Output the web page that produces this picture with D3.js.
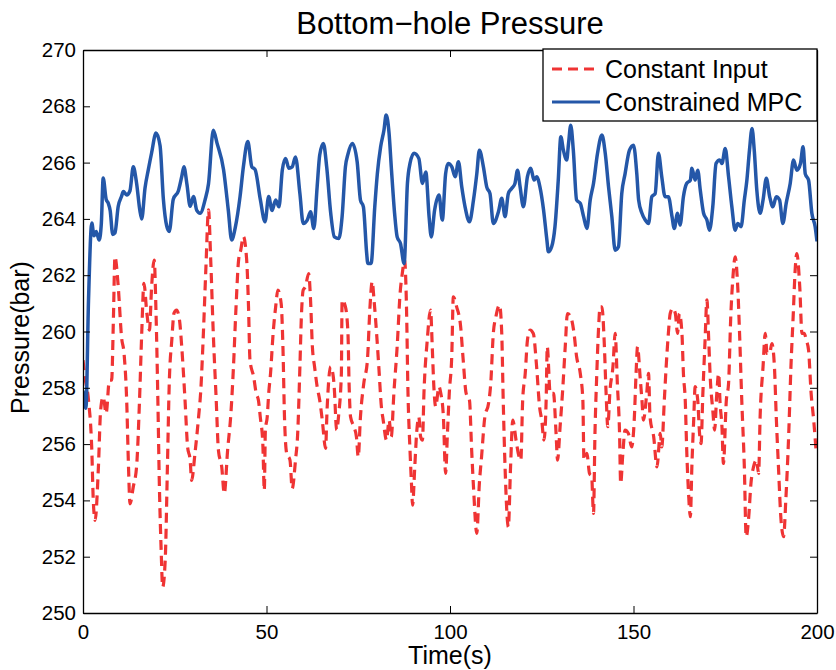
<!DOCTYPE html>
<html>
<head>
<meta charset="utf-8">
<script src="https://cdn.jsdelivr.net/npm/d3@7"></script>
<style>
  html, body { margin: 0; padding: 0; background: #fff; }
  svg { display: block; font-family: "Liberation Sans", Arial, Helvetica, sans-serif; }
</style>
</head>
<body>
<svg id="chart" width="836" height="670"></svg>
<script>
// Chart labels
const chartTitle = "Bottom\u2212hole Pressure";
const xLabel = "Time(s)";
const yLabel = "Pressure(bar)";
const seriesNames = ["Constant Input", "Constrained MPC"];

// Axis ticks
const xTicks = [0, 50, 100, 150, 200];
const yTicks = [250, 252, 254, 256, 258, 260, 262, 264, 266, 268, 270];

// Constrained MPC: sample times (s) and bottom-hole pressure (bar)
const mpcTime = [0, 0.8, 1.5, 2.4, 3.0, 3.6, 4.4, 5.0, 5.5, 6.3, 6.9, 7.4, 8.1, 8.7, 9.6, 10.5, 11.0, 11.9, 12.8, 13.7, 14.6, 15.5, 16.0, 16.9, 17.8, 18.7, 19.9, 21.0, 21.9, 22.8, 23.5, 24.6, 26.0, 26.9, 27.5, 28.3, 29.2, 30.1, 31.0, 31.9, 33.3, 34.2, 35.5, 36.5, 38.3, 39.6, 40.5, 41.5, 42.8, 43.7, 44.9, 46.0, 46.9, 48.3, 49.6,
  50.6, 51.5, 52.5, 53.4, 54.3, 55.2, 56.1, 57.0, 57.9, 59.1, 60.0, 61.1, 62.0, 62.9, 63.8, 64.5, 65.5, 66.4, 67.5, 68.5, 69.7, 70.6, 71.5, 72.2, 73.4, 74.7, 75.6, 76.4, 77.3, 77.6, 78.5, 79.5, 80.2, 81.1, 82.0, 82.6, 83.4, 84.0, 84.9, 85.6, 86.5, 87.5, 88.4, 89.1, 90.2, 91.5, 92.5, 93.4, 94.3, 94.9, 95.8, 97.0, 97.9, 98.8,
  99.5, 100.5, 101.4, 102.3, 103.2, 104.1, 105.3, 106.4, 107.3, 108.0, 109.1, 110.0, 110.9, 111.8, 113.2, 114.1, 115.0, 115.9, 116.8, 117.7, 118.4, 119.1, 120.0, 121.1, 122.0, 122.9, 123.6, 124.5, 125.5, 126.4, 126.8, 127.7, 128.6, 129.5, 130.2, 130.9, 131.8, 132.3, 132.9, 133.6, 134.5, 135.5, 136.4, 137.3, 138.2, 139.1, 140.2, 141.4, 142.3, 143.2, 144.1, 145.0, 145.9, 146.8, 147.7, 148.9,
  150.0, 150.9, 151.4, 152.3, 153.2, 154.1, 155.0, 155.9, 156.8, 157.7, 158.6, 159.5, 160.5, 161.1, 162.0, 162.7, 163.6, 164.5, 165.5, 165.9, 166.8, 167.5, 168.2, 169.1, 170.0, 170.7, 171.6, 172.5, 173.5, 174.1, 175.0, 175.9, 176.8, 177.7, 178.4, 179.3, 180.2, 180.9, 181.6, 182.3, 182.9, 183.6, 184.5, 185.3, 186.2, 187.1, 188.0, 188.9, 189.8, 190.7, 191.6, 192.7, 193.6, 194.5, 195.5, 196.2, 196.8, 197.7, 198.6, 199.5, 200];
const mpcPressure = [257.9, 257.27, 261.1, 263.85, 263.4, 263.55, 263.25, 263.85, 265.45, 264.7, 264.55, 264.3, 263.45, 263.5, 264.45, 264.8, 264.97, 264.85, 265.0, 265.85, 265.27, 264.3, 264.0, 265.1, 265.75, 266.35, 267.05, 266.6, 264.7, 263.75, 263.55, 264.7, 265.0, 265.5, 265.85, 265.25, 264.45, 264.8, 264.3, 264.2, 264.7, 265.25, 267.15, 266.7, 265.75, 264.3, 263.25, 263.7, 264.8, 265.85, 266.75, 265.85, 265.75, 264.7, 263.9,
  264.8, 264.3, 264.67, 264.43, 265.73, 266.15, 265.8, 265.85, 266.2, 264.9, 263.84, 263.96, 264.25, 263.66, 265.14, 266.27, 266.68, 265.85, 264.2, 263.36, 263.3, 264.08, 265.85, 266.3, 266.68, 266.03, 264.67, 264.43, 262.77, 262.42, 262.42, 264.43, 265.6, 266.56, 267.15, 267.69, 267.04, 265.85, 264.2, 263.36, 263.13, 262.42, 265.26, 265.97, 266.33, 266.15, 265.26, 265.67, 264.08, 263.36, 264.31, 264.85, 263.96, 265.6,
  265.97, 265.85, 265.5, 266.03, 265.14, 264.43, 263.9, 264.67, 265.6, 266.44, 265.85, 265.14, 264.9, 263.84, 264.25, 264.73, 264.08, 264.9, 265.08, 265.26, 265.73, 265.14, 264.43, 265.5, 265.8, 265.38, 265.5, 265.14, 264.31, 263.25, 262.83, 263.01, 263.72, 265.38, 266.92, 266.44, 266.09, 266.68, 267.33, 266.44, 264.67, 264.55, 264.08, 263.66, 264.67, 265.26, 266.33, 266.98, 266.33, 265.14, 264.08, 262.89, 263.01, 264.9, 265.6, 266.44,
  266.62, 265.6, 264.67, 264.2, 263.96, 263.84, 264.79, 264.9, 266.33, 265.5, 264.79, 264.79, 264.08, 263.66, 264.2, 263.78, 264.79, 265.26, 265.38, 265.8, 265.38, 265.73, 265.02, 264.2, 263.96, 263.6, 264.43, 265.97, 266.09, 265.97, 266.5, 265.5, 264.43, 263.6, 263.84, 263.72, 264.67, 265.38, 266.44, 267.21, 266.44, 265.02, 264.2, 264.67, 265.44, 264.79, 264.43, 264.79, 264.67, 263.84, 264.55, 265.26, 266.09, 265.73, 265.97, 266.56, 265.6, 265.38, 264.2, 263.72, 263.2];

// Constant input: sample times (s) and bottom-hole pressure (bar)
const constTime = [0, 0.5, 1.5, 2.4, 2.8, 3.3, 4.2, 4.8, 5.5, 6.3, 7.2, 7.8, 8.3, 8.7, 9.6, 10.5, 11.2, 11.9, 12.4, 12.8, 13.7, 14.6, 15.4, 16.0, 16.6, 17.4, 18.1, 18.7, 19.4, 19.9, 20.4, 20.8, 21.3, 21.7, 22.4, 23.0, 23.5, 24.2, 24.8, 25.5, 26.3, 26.9, 27.8, 28.5, 29.2, 29.6, 30.5, 31.5, 32.1, 32.8, 33.5, 34.2, 34.8, 35.5, 36.3, 36.9, 37.8, 38.5, 39.4, 40.3, 41.0, 41.7, 42.4, 43.0, 43.7, 44.6, 45.1, 45.5, 46.5, 47.2, 47.8, 48.3, 49.0, 49.4,
  49.7, 50.2, 50.6, 51.1, 51.8, 52.5, 53.1, 54.0, 54.5, 54.9, 55.5, 56.4, 57.0, 57.9, 58.5, 59.1, 59.5, 60.0, 60.6, 61.5, 62.0, 62.5, 63.1, 63.8, 64.5, 65.2, 66.1, 66.5, 67.5, 68.2, 68.5, 69.1, 69.7, 70.4, 70.6, 71.5, 72.2, 72.5, 72.9, 73.8, 74.5, 75.0, 75.6, 76.5, 77.5, 78.2, 78.8, 79.3, 80.0, 80.6, 81.3, 81.8, 82.7, 83.4, 84.0, 84.7, 85.6, 86.4, 87.0, 87.6, 88.2, 88.5, 89.1, 89.5, 89.8, 90.4, 90.9, 91.5, 92.0, 92.5, 92.9, 93.8, 94.7, 95.2, 95.6, 96.1, 97.0, 97.5, 98.2, 98.8,
  99.3, 99.8, 100.5, 100.9, 101.8, 102.9, 103.6, 104.4, 105.3, 105.9, 106.4, 107.3, 108.0, 108.6, 109.5, 110.5, 111.1, 111.8, 112.5, 113.5, 114.1, 114.5, 115.0, 115.9, 116.5, 117.1, 118.0, 118.6, 119.3, 119.8, 120.5, 121.1, 121.8, 122.7, 123.6, 124.4, 125.0, 125.6, 126.2, 126.5, 127.3, 128.2, 128.9, 129.3, 130.0, 130.7, 131.4, 132.0, 132.9, 133.8, 134.5, 135.5, 136.2, 136.5, 137.3, 138.0, 138.6, 139.1, 139.5, 140.0, 140.5, 140.9, 141.4, 142.0, 142.5, 143.0, 143.6, 144.4, 145.0, 145.6, 146.2, 146.5, 147.1, 147.7, 148.6,
  149.5, 150.2, 150.7, 151.1, 151.8, 152.3, 152.7, 153.6, 154.1, 154.5, 155.5, 156.4, 157.3, 157.7, 158.4, 158.9, 159.5, 160.0, 160.7, 161.4, 162.0, 162.5, 163.2, 163.6, 164.1, 164.5, 165.0, 165.5, 165.9, 166.4, 166.8, 167.5, 168.0, 168.4, 168.9, 169.5, 170.0, 170.5, 170.9, 171.6, 172.1, 172.7, 173.2, 173.6, 174.1, 174.5, 175.3, 175.9, 176.5, 177.1, 177.7, 178.4, 178.9, 179.5, 180.2, 180.7, 181.4, 182.0, 182.7, 183.5, 184.1, 184.5, 185.3, 185.9, 186.4, 187.1, 187.7, 188.4, 188.9, 189.5, 190.2, 190.9, 191.5, 192.3, 192.9, 193.5, 194.1, 194.5, 195.3, 195.9, 196.5, 197.1, 197.7, 198.4, 199.1, 199.8];
const constPressure = [258.98, 258.4, 257.56, 255.78, 254.0, 253.29, 255.19, 257.2, 257.68, 257.09, 258.27, 258.27, 260.53, 262.66, 261.6, 259.8, 259.2, 257.56, 255.19, 253.88, 254.48, 255.19, 257.56, 259.93, 261.71, 260.65, 260.05, 261.6, 262.54, 260.65, 257.56, 254.6, 252.22, 250.92, 251.87, 255.19, 258.15, 259.7, 260.65, 260.76, 260.4, 259.46, 257.56, 255.9, 255.43, 254.71, 255.66, 256.97, 257.92, 259.93, 262.3, 264.32, 262.54, 259.93, 257.56, 255.78, 255.19, 254.24, 255.78, 257.09, 258.75, 260.88, 262.54, 262.9, 263.37, 262.54, 260.88, 258.98, 258.39, 257.8, 257.56, 256.97, 256.0, 254.36,
  256.5, 256.97, 257.8, 258.51, 259.93, 260.88, 261.47, 260.99, 259.34, 256.97, 255.67, 255.43, 254.42, 255.43, 256.38, 258.75, 260.52, 261.47, 261.59, 262.06, 261.12, 259.46, 258.75, 258.04, 257.56, 256.85, 255.85, 257.21, 258.75, 258.39, 257.92, 256.5, 257.09, 258.51, 261.12, 260.88, 259.93, 258.15, 256.97, 256.62, 256.26, 255.55, 256.97, 258.15, 258.98, 260.88, 261.77, 261.12, 259.93, 258.75, 257.33, 256.85, 256.14, 256.85, 256.26, 257.8, 259.46, 261.35, 262.06, 262.54, 260.52, 258.15, 255.79, 254.6, 253.83, 255.19, 256.38, 256.97, 256.26, 256.14, 257.8, 259.69, 260.76, 259.34, 258.04, 257.33, 258.04, 257.8, 256.97, 254.96,
  256.38, 257.8, 259.22, 261.23, 260.88, 260.17, 258.98, 257.8, 257.56, 255.79, 254.48, 252.83, 254.6, 255.55, 256.97, 257.44, 258.15, 259.93, 260.52, 260.94, 259.93, 257.56, 255.19, 253.06, 255.19, 256.85, 256.14, 255.67, 255.43, 257.56, 258.51, 259.69, 260.05, 259.93, 258.75, 257.33, 256.85, 256.14, 257.56, 259.46, 257.8, 257.8, 256.38, 255.43, 256.62, 257.92, 259.46, 260.64, 260.52, 259.93, 259.1, 258.51, 257.56, 255.43, 255.67, 254.96, 254.84, 253.54, 256.38, 258.51, 260.17, 260.88, 260.88, 259.69, 257.92, 256.62, 257.92, 258.75, 259.93, 258.15, 256.38, 254.6, 255.67, 256.5, 256.38,
  255.9, 256.85, 258.51, 259.46, 258.39, 257.56, 256.85, 257.8, 258.51, 256.97, 256.26, 255.19, 256.38, 255.9, 257.56, 258.75, 259.93, 260.64, 260.82, 260.64, 259.93, 260.64, 259.93, 258.51, 257.56, 255.79, 254.25, 253.42, 255.19, 256.85, 258.04, 257.56, 256.38, 256.02, 257.8, 259.69, 261.12, 259.69, 258.39, 257.21, 256.5, 257.8, 258.51, 257.44, 256.62, 255.31, 257.56, 258.15, 260.52, 261.94, 262.65, 261.59, 259.93, 257.56, 255.19, 252.71, 253.42, 254.6, 255.19, 255.43, 254.96, 256.97, 258.75, 259.93, 259.22, 259.22, 259.57, 258.75, 256.97, 255.19, 253.3, 252.71, 254.01, 256.38, 258.75, 260.52, 262.3, 262.77, 261.59, 259.93, 259.93, 259.69, 259.34, 257.8, 256.85, 255.67];

const colors = { constant: "#ef3434", mpc: "#2457a8" };

const svg = d3.select("#chart");
const margin = { left: 83, right: 19, top: 50, bottom: 57 };
const W = 836, H = 670;
const x = d3.scaleLinear().domain([0, 200]).range([margin.left, W - margin.right]);
const y = d3.scaleLinear().domain([250, 270]).range([H - margin.bottom, margin.top]);

const plot = svg.append("g");

// Clip lines to the axes box
svg.append("defs").append("clipPath").attr("id", "plotClip")
  .append("rect")
  .attr("x", x(0)).attr("y", y(270))
  .attr("width", x(200) - x(0)).attr("height", y(250) - y(270));

const constSeries = constTime.map((t, i) => [t, constPressure[i]]);
const mpcSeries = mpcTime.map((t, i) => [t, mpcPressure[i]]);

const line = d3.line()
  .x(d => x(d[0]))
  .y(d => y(d[1]))
  .curve(d3.curveMonotoneX);

const lines = plot.append("g").attr("clip-path", "url(#plotClip)");

lines.append("path")
  .datum(constSeries)
  .attr("fill", "none")
  .attr("stroke", colors.constant)
  .attr("stroke-width", 3.2)
  .attr("stroke-dasharray", "10,6")
  .attr("d", line);

lines.append("path")
  .datum(mpcSeries)
  .attr("fill", "none")
  .attr("stroke", colors.mpc)
  .attr("stroke-width", 3.5)
  .attr("stroke-linejoin", "round")
  .attr("d", line);

// Axes: labelled on bottom/left, inward ticks mirrored on top/right
const tickLen = 7;
const fontTick = 20.5;

const xAxisB = d3.axisBottom(x).tickValues(xTicks).tickSizeInner(-tickLen).tickSizeOuter(0).tickPadding(11).tickFormat(d3.format("d"));
const xAxisT = d3.axisTop(x).tickValues(xTicks).tickSizeInner(-tickLen).tickSizeOuter(0).tickFormat("");
const yAxisL = d3.axisLeft(y).tickValues(yTicks).tickSizeInner(-tickLen).tickSizeOuter(0).tickPadding(7).tickFormat(d3.format("d"));
const yAxisR = d3.axisRight(y).tickValues(yTicks).tickSizeInner(-tickLen).tickSizeOuter(0).tickFormat("");

function style(g) {
  g.select(".domain").attr("stroke", "#000").attr("stroke-width", 1.3);
  g.selectAll(".tick line").attr("stroke", "#000").attr("stroke-width", 1);
  g.selectAll(".tick text").attr("fill", "#000").attr("font-size", fontTick)
    .attr("font-family", "Liberation Sans, Arial, sans-serif");
}

plot.append("g").attr("transform", `translate(0,${y(250)})`).call(xAxisB).call(style);
plot.append("g").attr("transform", `translate(0,${y(270)})`).call(xAxisT).call(style);
plot.append("g").attr("transform", `translate(${x(0)},0)`).call(yAxisL).call(style);
plot.append("g").attr("transform", `translate(${x(200)},0)`).call(yAxisR).call(style);

// Title and axis labels
svg.append("text")
  .attr("x", (x(0) + x(200)) / 2).attr("y", 34)
  .attr("text-anchor", "middle")
  .attr("font-size", 31)
  .attr("fill", "#000")
  .text(chartTitle);

svg.append("text")
  .attr("x", (x(0) + x(200)) / 2).attr("y", 664)
  .attr("text-anchor", "middle")
  .attr("font-size", 25)
  .attr("fill", "#000")
  .text(xLabel);

svg.append("text")
  .attr("transform", `translate(29,${(y(250) + y(270)) / 2 + 6}) rotate(-90)`)
  .attr("text-anchor", "middle")
  .attr("font-size", 25)
  .attr("fill", "#000")
  .text(yLabel);

// Legend
const legend = svg.append("g");
const lgX = 543, lgY = 49, lgW = x(200) - 543, lgH = 72;
legend.append("rect")
  .attr("x", lgX).attr("y", lgY).attr("width", lgW).attr("height", lgH)
  .attr("fill", "#fff").attr("stroke", "#000").attr("stroke-width", 1.3);

const legendItems = [
  { name: seriesNames[0], color: colors.constant, dash: "10,6", cy: 69 },
  { name: seriesNames[1], color: colors.mpc, dash: null, cy: 102 }
];
legendItems.forEach(it => {
  legend.append("line")
    .attr("x1", 552).attr("x2", 600)
    .attr("y1", it.cy).attr("y2", it.cy)
    .attr("stroke", it.color).attr("stroke-width", 3.2)
    .attr("stroke-dasharray", it.dash);
  legend.append("text")
    .attr("x", 605).attr("y", it.cy + 9)
    .attr("font-size", 25)
    .attr("fill", "#000")
    .text(it.name);
});
</script>
</body>
</html>
